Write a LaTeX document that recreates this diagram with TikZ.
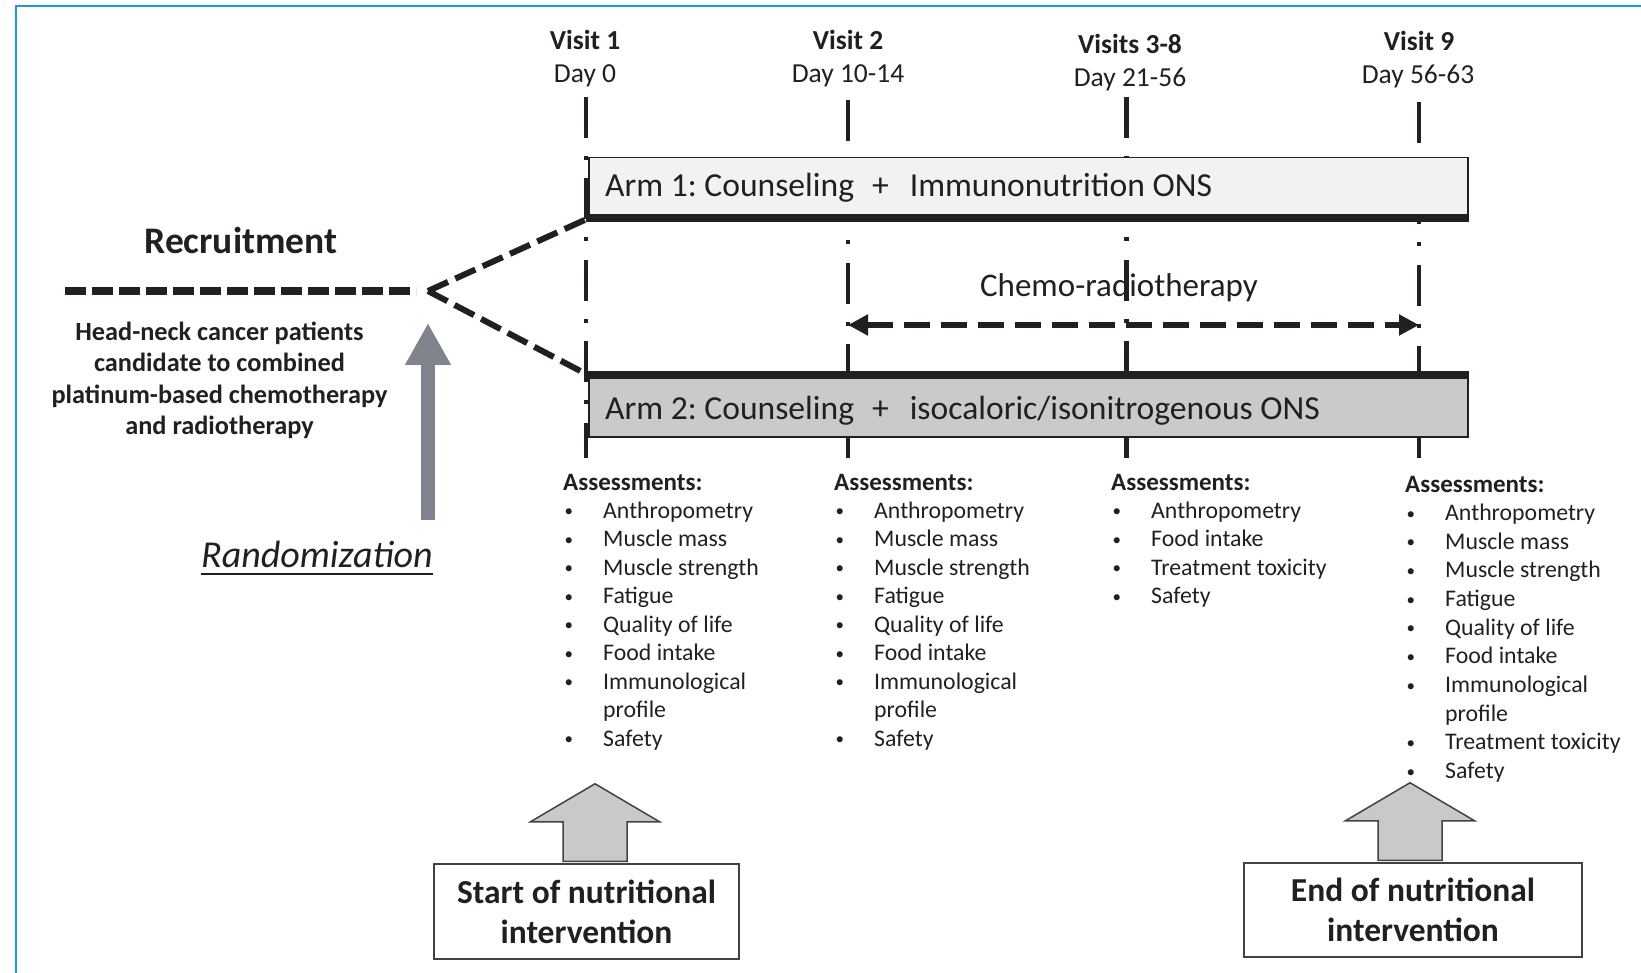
\documentclass[tikz,border=0pt]{standalone}
\usepackage{fontspec}
\setmainfont{Carlito}
\usepackage{xcolor}
\usetikzlibrary{arrows.meta, positioning, calc}
\definecolor{ink}{HTML}{231F20}
\definecolor{frameblue}{HTML}{1B9AD6}
\definecolor{armone}{HTML}{F2F2F2}
\definecolor{armtwo}{HTML}{C9CACC}
\definecolor{randgray}{HTML}{7F838C}
\definecolor{blockgray}{HTML}{C8C9CB}
\newcommand{\pxfont}[2]{\fontsize{#1pt}{#2pt}\selectfont}
\newcommand{\bul}{\makebox[40pt][l]{\hspace{1.5pt}\raisebox{1.5pt}{\pxfont{17}{17}\textbullet}}}
\newcommand{\nobul}{\hspace*{40pt}}
\newcommand{\asshead}{{\pxfont{25}{28.45}\bfseries Assessments:}}
\newcommand{\plusgap}{\hspace{18pt}+\hspace{21pt}}
\tikzset{
  frame/.style={draw=frameblue, line width=2.5pt},
  visitlbl/.style={font=\pxfont{27.5}{33}\bfseries, text=ink, anchor=base, inner sep=0pt},
  daylbl/.style={font=\pxfont{27.5}{33}, text=ink, anchor=base, inner sep=0pt},
  visitline/.style={draw=ink, dash pattern=on 41pt off 18pt on 4pt off 18.5pt},
  armbox/.style={
    rectangle, draw=ink, line width=1.5pt, anchor=north west,
    minimum width=879pt, inner sep=0pt
  },
  armtext/.style={font=\pxfont{33.6}{38}, text=ink, anchor=base west, inner sep=0pt},
  armbar/.style={draw=ink, line width=7.5pt},
  recruit/.style={font=\pxfont{37.5}{42}\bfseries, text=ink, anchor=base, inner sep=0pt},
  patients/.style={font=\pxfont{26.3}{31.4}\bfseries, text=ink, anchor=base, inner sep=0pt},
  recline/.style={draw=ink, line width=8pt, dash pattern=on 21pt off 6pt},
  splitline/.style={draw=ink, line width=6pt, dash pattern=on 22pt off 8pt},
  randlbl/.style={font=\pxfont{38}{44}\itshape, text=ink, anchor=base, inner sep=0pt},
  randrule/.style={draw=ink, line width=2pt},
  randarrow/.style={draw=randgray, line width=14pt, -{Triangle[length=42pt,width=43pt]}},
  chemolbl/.style={font=\pxfont{33}{38}, text=ink, anchor=base, inner sep=0pt},
  chemoarrow/.style={
    draw=ink, line width=6pt, dash pattern=on 26pt off 11pt,
    {Triangle[length=20pt,width=20pt]}-{Triangle[length=20pt,width=20pt]}
  },
  asslist/.style={font=\pxfont{23.8}{28.45}, text=ink, anchor=base west, inner sep=0pt},
  interbox/.style={
    rectangle, draw=ink!85, line width=1.5pt, inner sep=0pt,
    font=\pxfont{33.5}{40}\bfseries, text=ink, align=center
  },
  blockarrow/.style={draw=ink!85, line width=1.5pt, fill=blockgray},
  uparrow/.pic={
    \path[blockarrow] (-32,0) -- (-32,-39.5) -- (-64.5,-39.5) -- (0,-77.5)
      -- (64.5,-39.5) -- (32,-39.5) -- (32,0) -- cycle;
  },
}
\begin{document}
\frenchspacing
\begin{tikzpicture}[x=1pt, y=-1pt]
  \useasboundingbox (0,0) rectangle (1641,973);
  \draw[frame] (16,990) -- (16,6) -- (1660,6);

  % visits and time line
  \node[visitlbl] (v1) at (585,49.5) {Visit 1};
  \node[daylbl] (d1) at (585,82.5) {Day 0};
  \node[visitlbl] (v2) at (848,49.5) {Visit 2};
  \node[daylbl] (d2) at (848,82.5) {Day 10-14};
  \node[visitlbl] (v3) at (1130,53.5) {Visits 3-8};
  \node[daylbl] (d3) at (1130,86.5) {Day 21-56};
  \node[visitlbl] (v9) at (1419,50.5) {Visit 9};
  \node[daylbl] (d9) at (1418,83.5) {Day 56-63};
  \foreach \n/\x/\y/\w in {1/586/97/3.5, 2/848/100/3.5, 3/1126/97/5, 9/1419/102/3.5}{
    \coordinate (top\n) at (\x,\y);
    \coordinate (bot\n) at (\x,458);
    \draw[visitline, line width=\w pt] (top\n) -- (bot\n);
  }

  % arms
  \node[armbox, fill=armone, minimum height=60pt] (arm1) at (588,157) {};
  \draw[armbar, line width=8pt] ([xshift=-2pt]arm1.south west) -- (arm1.south east);
  \node[armtext] (arm1txt) at (605,196.5) {Arm 1: Counseling\plusgap Immunonutrition ONS};
  \node[armbox, fill=armtwo, minimum height=61pt] (arm2) at (588,375) {};
  \draw[armbar] ([xshift=-2pt]arm2.north west) -- (arm2.north east);
  \node[armtext] (arm2txt) at (605,419.5) {Arm 2: Counseling\plusgap isocaloric/isonitrogenous ONS};

  % recruitment
  \node[recruit] (recr) at (241,253.5) {Recruitment};
  \coordinate (split) at (428,291);
  \coordinate (recstart) at (65,291);
  \draw[recline] (recstart) -- ([xshift=-12pt]split);
  \draw[splitline] (split) -- (arm1.south west);
  \draw[splitline] (split) -- (arm2.north west);
  \node[patients] (pat) at (219.5,340.5) {\begin{tabular}[t]{@{}c@{}}
    Head-neck cancer patients\\candidate to combined\\
    platinum-based chemotherapy\\and radiotherapy\end{tabular}};

  \node[randlbl] (rand) at (317,567) {Randomization};
  \draw[randrule] ([yshift=-6.5pt]rand.base west) -- ([yshift=-6.5pt]rand.base east);
  \coordinate (randfoot) at (428,520);
  \draw[randarrow] (randfoot) -- ([yshift=-32pt]split);

  % chemo-radiotherapy
  \node[chemolbl] (chemo) at (1119,297) {Chemo-radiotherapy};
  \draw[chemoarrow] (top2 |- 0,325) -- (top9 |- 0,325);

  % assessments
  \node[asslist] (ass1) at (563,490) {\begin{tabular}[t]{@{}l@{}}
    \asshead\\ \bul Anthropometry\\ \bul Muscle mass\\
    \bul Muscle strength\\ \bul Fatigue\\ \bul Quality of life\\
    \bul Food intake\\ \bul Immunological\\ \nobul profile\\ \bul Safety
    \end{tabular}};
  \node[asslist] (ass2) at (834,490) {\begin{tabular}[t]{@{}l@{}}
    \asshead\\ \bul Anthropometry\\ \bul Muscle mass\\
    \bul Muscle strength\\ \bul Fatigue\\ \bul Quality of life\\
    \bul Food intake\\ \bul Immunological\\ \nobul profile\\ \bul Safety
    \end{tabular}};
  \node[asslist] (ass3) at (1111,490) {\begin{tabular}[t]{@{}l@{}}
    \asshead\\ \bul Anthropometry\\ \bul Food intake\\
    \bul Treatment toxicity\\ \bul Safety
    \end{tabular}};
  \node[asslist, font=\pxfont{23.8}{28.65}] (ass9) at (1405,492) {\begin{tabular}[t]{@{}l@{}}
    \asshead\\ \bul Anthropometry\\ \bul Muscle mass\\
    \bul Muscle strength\\ \bul Fatigue\\ \bul Quality of life\\
    \bul Food intake\\ \bul Immunological\\ \nobul profile\\
    \bul Treatment toxicity\\ \bul Safety
    \end{tabular}};

  % nutritional intervention
  \node[interbox, minimum width=305pt, minimum height=95pt] (startn) at (586.5,911.5)
    {Start of nutritional\\intervention};
  \node[interbox, minimum width=338pt, minimum height=94pt] (endn) at (1413,910)
    {End of nutritional\\intervention};
  \pic at ([xshift=8.5pt,yshift=2pt]startn.north) {uparrow};
  \pic at ([xshift=-3pt,yshift=2pt]endn.north) {uparrow};
\end{tikzpicture}
\end{document}
